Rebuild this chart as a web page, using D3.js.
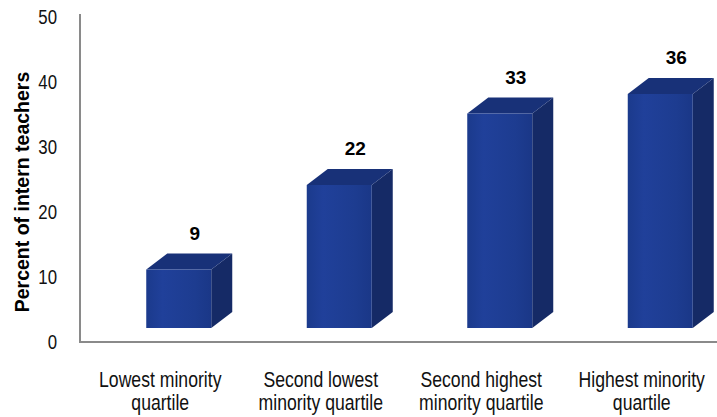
<!DOCTYPE html>
<html>
<head>
<meta charset="utf-8">
<script src="https://cdn.jsdelivr.net/npm/d3@7"></script>
<style>
  html, body { margin: 0; padding: 0; background: #fff; }
  svg { display: block; }
  text { font-family: "Liberation Sans", Arial, Helvetica, sans-serif; }
</style>
</head>
<body>
<svg id="chart" width="717" height="417"></svg>
<script>
// Share of intern teachers by school minority quartile
const categories = [
  ["Lowest minority", "quartile"],
  ["Second lowest", "minority quartile"],
  ["Second highest", "minority quartile"],
  ["Highest minority", "quartile"]
];
const values = [9, 22, 33, 36];
const yTicks = [0, 10, 20, 30, 40, 50];
const yTitle = "Percent of intern teachers";

const svg = d3.select("#chart");
const W = 717, H = 417;
const narrow = 0.82; // horizontal squeeze for the condensed label face

const axisLeft = 80, axisBottom = 342, axisTop = 14;
const y = d3.scaleLinear().domain([0, 50]).range([342, 17]);
const x = d3.scaleBand().domain(d3.range(categories.length)).range([80, 722]).padding(0);

// 3D bar geometry
const barW = 65, depthX = 21, depthY = 16, floorLift = 14, barShift = -14;

const defs = svg.append("defs");
const grad = defs.append("linearGradient").attr("id", "frontGrad")
  .attr("x1", "0%").attr("x2", "100%").attr("y1", "0%").attr("y2", "0%");
grad.append("stop").attr("offset", "0%").attr("stop-color", "#1b3a8c");
grad.append("stop").attr("offset", "25%").attr("stop-color", "#20409a");
grad.append("stop").attr("offset", "75%").attr("stop-color", "#1d3c90");
grad.append("stop").attr("offset", "100%").attr("stop-color", "#1a3787");

// Axis lines
svg.append("line")
  .attr("x1", axisLeft).attr("x2", axisLeft)
  .attr("y1", axisTop).attr("y2", axisBottom)
  .attr("stroke", "#8a8a8a").attr("stroke-width", 2);
svg.append("line")
  .attr("x1", axisLeft - 1).attr("x2", W)
  .attr("y1", axisBottom).attr("y2", axisBottom)
  .attr("stroke", "#8a8a8a").attr("stroke-width", 2);

// Y tick labels
svg.append("g").selectAll("g").data(yTicks).join("g")
  .attr("transform", d => `translate(57,${y(d)}) scale(${narrow},1)`)
  .append("text")
  .attr("dy", "0.35em")
  .attr("text-anchor", "end")
  .attr("font-size", 20.5)
  .attr("fill", "#111")
  .text(d => d);

// Y axis title
svg.append("text")
  .attr("transform", "translate(29,192) rotate(-90)")
  .attr("text-anchor", "middle")
  .attr("font-weight", "bold")
  .attr("font-size", 19.5)
  .attr("fill", "#000")
  .text(yTitle);

// Bars
const bars = svg.append("g").selectAll("g").data(values).join("g");

bars.each(function(v, i) {
  const g = d3.select(this);
  const x0 = x(i) + x.bandwidth() / 2 + barShift;
  const x1 = x0 + barW;
  const yTop = y(v) - floorLift;
  const yBot = y(0) - floorLift;

  // side face
  g.append("path")
    .attr("d", `M${x1},${yTop} L${x1 + depthX},${yTop - depthY} L${x1 + depthX},${yBot - depthY} L${x1},${yBot} Z`)
    .attr("fill", "#152a66");
  // top face
  g.append("path")
    .attr("d", `M${x0},${yTop} L${x0 + depthX},${yTop - depthY} L${x1 + depthX},${yTop - depthY} L${x1},${yTop} Z`)
    .attr("fill", "#183178");
  // front face
  g.append("rect")
    .attr("x", x0).attr("y", yTop)
    .attr("width", barW).attr("height", yBot - yTop)
    .attr("fill", "url(#frontGrad)");

  // value label
  g.append("text")
    .attr("x", x0 + barW / 2 + 16)
    .attr("y", yTop - 30)
    .attr("text-anchor", "middle")
    .attr("font-weight", "bold")
    .attr("font-size", 19)
    .attr("fill", "#000")
    .text(v);
});

// Category labels
const cat = svg.append("g").selectAll("g").data(categories).join("g")
  .attr("transform", (d, i) => `translate(${x(i) + x.bandwidth() / 2},387) scale(${narrow},1)`)
  .append("text")
  .attr("text-anchor", "middle")
  .attr("font-size", 21.5)
  .attr("fill", "#111");
cat.selectAll("tspan").data(d => d).join("tspan")
  .attr("x", 0)
  .attr("dy", (d, j) => j === 0 ? 0 : 23)
  .text(d => d);
</script>
</body>
</html>
